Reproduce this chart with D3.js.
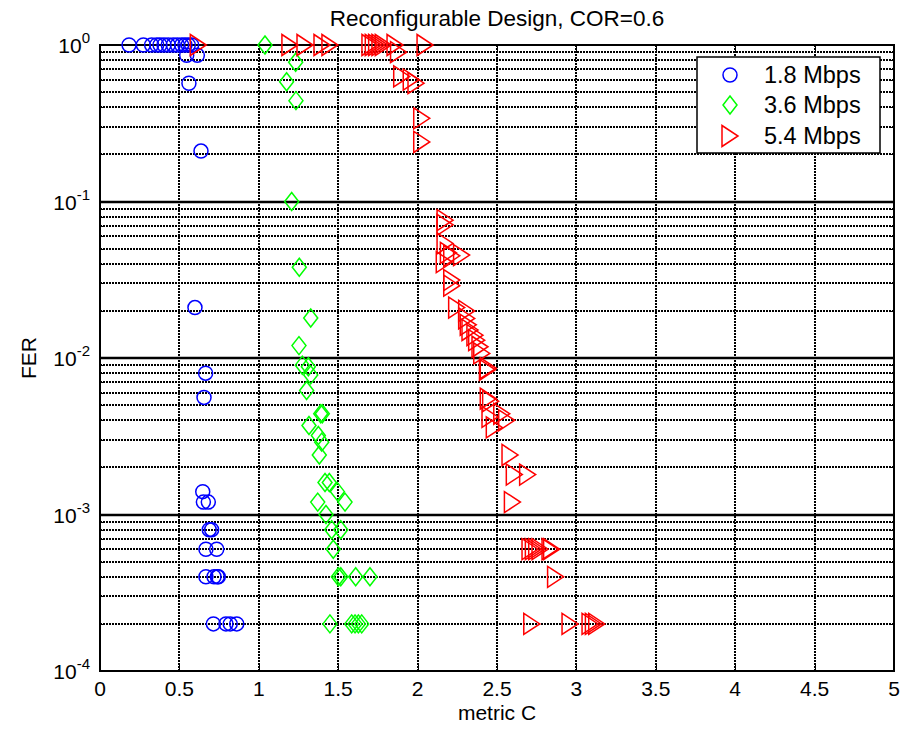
<!DOCTYPE html>
<html>
<head>
<meta charset="utf-8">
<script src="https://cdn.jsdelivr.net/npm/d3@7"></script>
<style>
  body { margin: 0; background: #fff; }
  svg { display: block; font-family: "Liberation Sans", Arial, sans-serif; }
</style>
</head>
<body>
<div id="chart"></div>
<script>
// series: metric C (x) and FER (y)
var names = ["1.8 Mbps", "3.6 Mbps", "5.4 Mbps"];

var c18   = [0.183, 0.273, 0.325, 0.357, 0.378, 0.403, 0.430, 0.461, 0.487, 0.514, 0.535, 0.556, 0.577,
             0.546, 0.613, 0.560, 0.636, 0.598, 0.665, 0.655, 0.647, 0.651, 0.682, 0.688, 0.703,
             0.667, 0.735, 0.667, 0.718, 0.739, 0.745, 0.714, 0.793, 0.820, 0.861];
var fer18 = [1, 1, 1, 1, 1, 1, 1, 1, 1, 1, 1, 1, 1,
             0.86, 0.86, 0.57, 0.21, 0.021, 0.008, 0.0056, 0.0014, 0.0012, 0.0012, 0.0008, 0.0008,
             0.0006, 0.0006, 0.0004, 0.0004, 0.0004, 0.0004, 0.0002, 0.0002, 0.0002, 0.0002];

var c36   = [1.039, 1.232, 1.175, 1.234, 1.207, 1.255, 1.327, 1.253, 1.274, 1.312, 1.327, 1.301,
             1.390, 1.400, 1.316, 1.375, 1.396, 1.381, 1.417, 1.444, 1.495, 1.371, 1.543, 1.423,
             1.459, 1.516, 1.469, 1.501, 1.516, 1.610, 1.700, 1.448, 1.585, 1.606, 1.627, 1.648];
var fer36 = [1, 0.775, 0.583, 0.441, 0.1, 0.038, 0.018, 0.012, 0.009, 0.0088, 0.0078, 0.0062,
             0.0044, 0.0044, 0.0037, 0.0032, 0.0029, 0.0024, 0.0016, 0.0016, 0.0014, 0.0012, 0.0012, 0.001,
             0.0008, 0.0008, 0.0006, 0.0004, 0.0004, 0.0004, 0.0004, 0.0002, 0.0002, 0.0002, 0.0002, 0.0002];

var c54   = [0.619, 1.196, 1.291, 1.398, 1.448, 1.700, 1.721, 1.742, 1.763, 1.784, 1.858, 2.047,
             1.880, 1.900, 1.960, 1.990, 2.026, 2.026, 2.173, 2.173, 2.173, 2.194, 2.215, 2.277, 2.168,
             2.215, 2.215, 2.246, 2.309, 2.309, 2.319, 2.330, 2.361, 2.372, 2.393, 2.404, 2.445, 2.440,
             2.445, 2.460, 2.456, 2.530, 2.561, 2.483, 2.582, 2.609, 2.693, 2.597,
             2.708, 2.729, 2.750, 2.771, 2.834, 2.844, 2.869, 2.719, 2.960, 3.086, 3.107, 3.128];
var fer54 = [1, 1, 1, 1, 1, 1, 1, 1, 1, 1, 1, 1,
             0.90, 0.63, 0.60, 0.57, 0.34, 0.24, 0.076, 0.071, 0.054, 0.047, 0.045, 0.0455, 0.041,
             0.0315, 0.029, 0.021, 0.020, 0.0179, 0.0163, 0.0151, 0.014, 0.013, 0.0118, 0.0107, 0.0086, 0.0084,
             0.0055, 0.0053, 0.0042, 0.0044, 0.0040, 0.0036, 0.0024, 0.0018, 0.0018, 0.0012,
             0.0006, 0.0006, 0.0006, 0.0006, 0.0006, 0.0006, 0.0004, 0.0002, 0.0002, 0.0002, 0.0002, 0.0002];

var xTicks = [0, 0.5, 1, 1.5, 2, 2.5, 3, 3.5, 4, 4.5, 5];
var yExps  = [0, -1, -2, -3, -4];
var colors = ["#0000ff", "#00ff00", "#ff0000"];

var W = 911, H = 738;
var pL = 100, pR = 894, pT = 45, pB = 671;

var svg = d3.select("#chart").append("svg").attr("width", W).attr("height", H);

var x = d3.scaleLinear().domain([0, 5]).range([pL, pR]);
var y = d3.scaleLog().domain([1e-4, 1]).range([pB, pT]);

// minor values for the log grid
var minor = [];
for (var e = -4; e < 0; e++) {
  for (var m = 2; m <= 9; m++) minor.push(m * Math.pow(10, e));
}

var grid = svg.append("g").attr("stroke", "#000").attr("fill", "none");
grid.selectAll("line.gx").data(xTicks.slice(1, -1)).enter().append("line")
  .attr("x1", function(d) { return Math.round(x(d)); })
  .attr("x2", function(d) { return Math.round(x(d)); })
  .attr("y1", pT).attr("y2", pB)
  .attr("stroke-width", 2).attr("stroke-dasharray", "2,1");
grid.selectAll("line.gm").data(minor).enter().append("line")
  .attr("x1", pL).attr("x2", pR)
  .attr("y1", function(d) { return Math.round(y(d)); })
  .attr("y2", function(d) { return Math.round(y(d)); })
  .attr("stroke-width", 2).attr("stroke-dasharray", "2,1");
grid.selectAll("line.gd").data(yExps.slice(1, -1)).enter().append("line")
  .attr("x1", pL).attr("x2", pR)
  .attr("y1", function(d) { return Math.round(y(Math.pow(10, d))); })
  .attr("y2", function(d) { return Math.round(y(Math.pow(10, d))); })
  .attr("stroke-width", 2.5);

// ticks (inward, both sides)
var ticks = svg.append("g").attr("stroke", "#000").attr("stroke-width", 1);
xTicks.forEach(function(d) {
  var px = Math.round(x(d)) + 0.5;
  ticks.append("line").attr("x1", px).attr("x2", px).attr("y1", pB).attr("y2", pB - 8);
  ticks.append("line").attr("x1", px).attr("x2", px).attr("y1", pT).attr("y2", pT + 8);
});
minor.forEach(function(d) {
  var py = Math.round(y(d)) + 0.5;
  ticks.append("line").attr("x1", pL).attr("x2", pL + 4).attr("y1", py).attr("y2", py);
  ticks.append("line").attr("x1", pR).attr("x2", pR - 4).attr("y1", py).attr("y2", py);
});

// axes box
svg.append("rect").attr("x", pL).attr("y", pT)
  .attr("width", pR - pL).attr("height", pB - pT)
  .attr("fill", "none").attr("stroke", "#000").attr("stroke-width", 2);

// tick labels
svg.append("g").selectAll("text").data(xTicks).enter().append("text")
  .attr("x", function(d) { return x(d); })
  .attr("y", pB + 25)
  .attr("text-anchor", "middle").attr("font-size", 21)
  .text(function(d) { return d; });

var yl = svg.append("g").selectAll("text").data(yExps).enter().append("text")
  .attr("x", 90)
  .attr("y", function(d) { return y(Math.pow(10, d)) + 8; })
  .attr("text-anchor", "end").attr("font-size", 21);
yl.append("tspan").text("10");
yl.append("tspan").attr("dy", -10).attr("font-size", 15).text(function(d) { return d; });

svg.append("text").attr("x", (pL + pR) / 2).attr("y", 26)
  .attr("text-anchor", "middle").attr("font-size", 22.5)
  .text("Reconfigurable Design, COR=0.6");
svg.append("text").attr("x", (pL + pR) / 2).attr("y", 720)
  .attr("text-anchor", "middle").attr("font-size", 21).text("metric C");
svg.append("text").attr("transform", "translate(36," + ((pT + pB) / 2) + ") rotate(-90)")
  .attr("text-anchor", "middle").attr("font-size", 21).text("FER");

// markers
function marker(sel, k) {
  if (k === 0) {
    sel.append("circle").attr("r", 7);
  } else if (k === 1) {
    sel.append("path").attr("d", "M0,-9L7,0L0,9L-7,0Z");
  } else {
    sel.append("path").attr("d", "M-8,-10.5L8,0L-8,10.5Z");
  }
}

var series = [[c18, fer18], [c36, fer36], [c54, fer54]];
series.forEach(function(s, k) {
  var pts = s[0].map(function(v, i) { return [v, s[1][i]]; });
  var g = svg.append("g").attr("fill", "none").attr("stroke", colors[k]).attr("stroke-width", 1.5);
  g.selectAll("g").data(pts).enter().append("g")
    .attr("transform", function(d) { return "translate(" + x(d[0]) + "," + y(d[1]) + ")"; })
    .each(function() { marker(d3.select(this), k); });
});

// legend
var lg = svg.append("g");
lg.append("rect").attr("x", 697).attr("y", 57).attr("width", 183).attr("height", 96)
  .attr("fill", "#fff").attr("stroke", "#000").attr("stroke-width", 1.5);
var legendY = [75, 105, 136];
names.forEach(function(n, k) {
  var g = lg.append("g").attr("transform", "translate(730," + legendY[k] + ")")
    .attr("fill", "none").attr("stroke", colors[k]).attr("stroke-width", 1.5);
  marker(g, k);
  lg.append("text").attr("x", 764).attr("y", legendY[k] + 8).attr("font-size", 23.5).text(n);
});
</script>
</body>
</html>
